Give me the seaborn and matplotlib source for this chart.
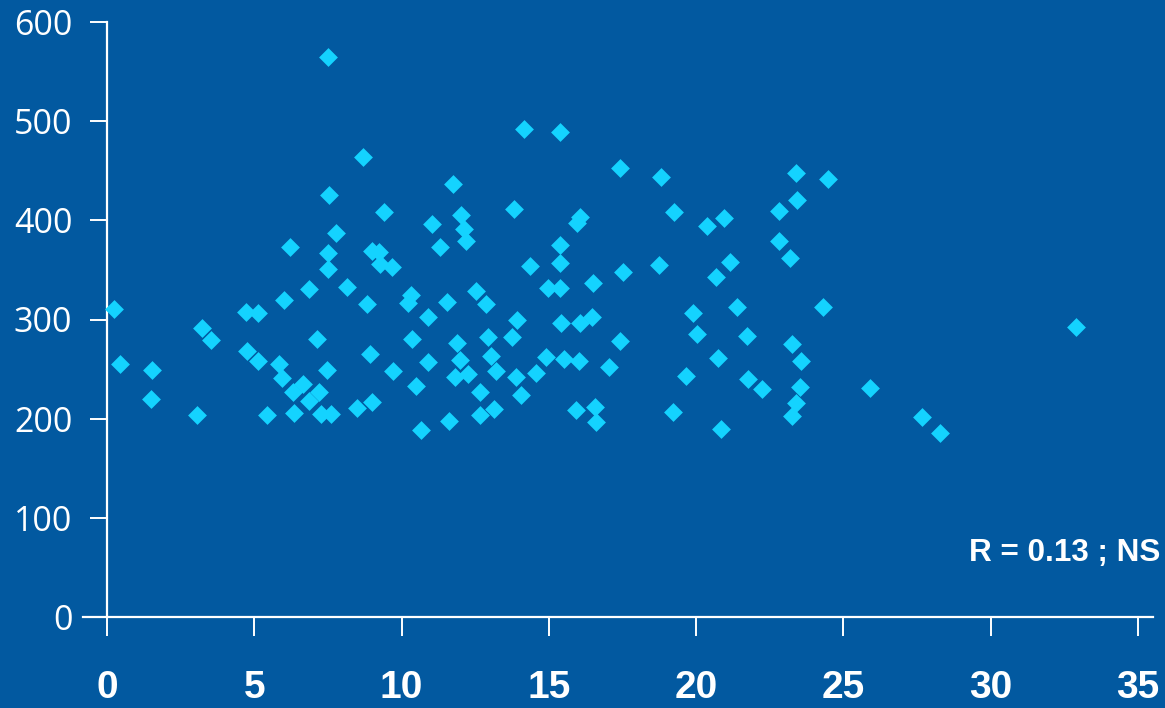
import pandas as pd
import seaborn as sns
import matplotlib.pyplot as plt

# values
x_vals = [
    7.55, 7.78, 6.22, 7.49, 7.49, 8.14, 6.87, 6.01, 0.24, 4.72, 5.14, 3.24, 3.53, 7.13,
    4.74, 5.14, 5.83, 0.43, 1.52, 7.46, 5.95, 6.64, 6.30, 7.19, 6.87, 1.48, 3.06, 5.43,
    6.34, 7.28, 7.59, 8.48, 7.49,
    8.70, 11.74, 9.41, 13.82, 12.02, 11.04, 12.13, 16.07, 15.95, 12.20, 11.32, 8.99,
    9.24, 9.27, 9.69, 15.38, 15.38, 14.37, 16.50, 14.97, 15.38, 12.53, 10.32, 10.23,
    8.84, 11.53, 12.86, 10.90, 13.92, 15.41, 16.06, 16.45, 10.35, 11.89, 12.92, 13.74,
    8.94, 10.90, 11.98, 13.03, 14.90, 15.50, 16.01, 17.04, 9.72, 11.82, 12.26, 13.20,
    13.89, 14.56, 10.48, 12.65, 14.07, 9.00, 12.65, 13.13, 11.62, 10.66, 15.92, 16.57,
    16.59, 14.16, 15.38,
    17.43, 18.82, 23.40, 24.47, 23.43, 22.80, 19.26, 20.96, 20.36, 22.80, 23.20, 21.14,
    18.73, 17.52, 20.66, 24.30, 21.39, 19.90, 20.03, 21.72, 23.25, 17.41, 23.57, 20.75,
    19.67, 21.77, 22.25, 23.53, 23.40, 23.25, 19.22, 20.84,
    32.89, 25.91, 27.68, 28.29,
]
y_vals = [
    425.5, 386.9, 373.4, 366.8, 351.2, 332.5, 330.5, 319.7, 310.3, 307.3, 306.3, 291.1,
    279.3, 280.3, 268.5, 257.8, 255.1, 254.8, 249.1, 249.1, 240.7, 234.7, 226.6, 226.6,
    218.1, 220.1, 204.0, 204.0, 206.0, 204.7, 204.7, 210.5, 564.4,
    464.2, 436.6, 408.1, 411.1, 405.4, 396.3, 391.0, 403.7, 397.0, 379.2, 373.4, 369.1,
    368.4, 356.0, 353.2, 374.8, 356.7, 354.3, 336.5, 332.1, 332.1, 328.7, 324.7, 316.3,
    315.3, 317.6, 315.6, 302.2, 299.5, 296.8, 296.8, 302.2, 280.6, 276.6, 282.7, 282.7,
    264.9, 257.4, 259.2, 263.2, 261.9, 260.2, 258.5, 252.4, 248.4, 242.3, 245.0, 247.8,
    242.3, 245.7, 233.2, 226.9, 224.2, 216.8, 203.7, 210.1, 197.3, 188.6, 209.0, 212.1,
    196.9, 491.8, 488.8,
    453.1, 444.0, 447.7, 442.0, 420.5, 409.1, 408.1, 402.7, 394.6, 378.9, 362.3, 358.0,
    355.3, 347.9, 342.6, 312.9, 312.3, 306.9, 285.4, 283.7, 275.3, 278.0, 258.5, 261.2,
    243.0, 239.7, 229.6, 232.2, 216.1, 203.0, 206.4, 189.3,
    292.4, 230.6, 201.4, 185.8,
]
x_ticks = [0, 5, 10, 15, 20, 25, 30, 35]
y_ticks = [0, 100, 200, 300, 400, 500, 600]
note = "R = 0.13 ; NS"

bg = "#0259A0"
fg = "white"

sns.set_style("ticks")
plt.rcParams["font.family"] = ["Liberation Sans", "DejaVu Sans"]

df = pd.DataFrame({"x": x_vals, "y": y_vals})

fig = plt.figure(figsize=(11.65, 7.08), dpi=100, facecolor=bg)
ax = fig.add_axes([107 / 1165, 1 - 617 / 708, (1138 - 107) / 1165, (617 - 22) / 708])
ax.set_facecolor(bg)

sns.scatterplot(data=df, x="x", y="y", marker="D", s=92, color="#14D3FF",
                linewidth=0, ax=ax, clip_on=False, zorder=3)

ax.set_xlim(0, 35)
ax.set_ylim(0, 600)
ax.set_xticks(x_ticks)
ax.set_yticks(y_ticks)
ax.set_xlabel("")
ax.set_ylabel("")

for side in ["top", "right"]:
    ax.spines[side].set_visible(False)
for side in ["left", "bottom"]:
    ax.spines[side].set_color(fg)
    ax.spines[side].set_linewidth(1.6)
ax.spines["bottom"].set_bounds(-0.8, 35.5)

ax.tick_params(axis="y", colors=fg, length=12, width=1.4, direction="out", pad=13)
ax.tick_params(axis="x", colors=fg, length=14, width=1.4, direction="out", pad=24)
for lab in ax.get_yticklabels():
    lab.set_fontfamily(["Open Sans", "DejaVu Sans"])
    lab.set_fontsize(24.5)
for lab in ax.get_xticklabels():
    lab.set_fontweight("bold")
    lab.set_fontsize(28)

fig.text(1160 / 1165, 1 - 553 / 708, note, ha="right", va="center",
         color=fg, fontsize=22.7, fontweight="bold")

fig.savefig("out.png", dpi=100, facecolor=bg)
